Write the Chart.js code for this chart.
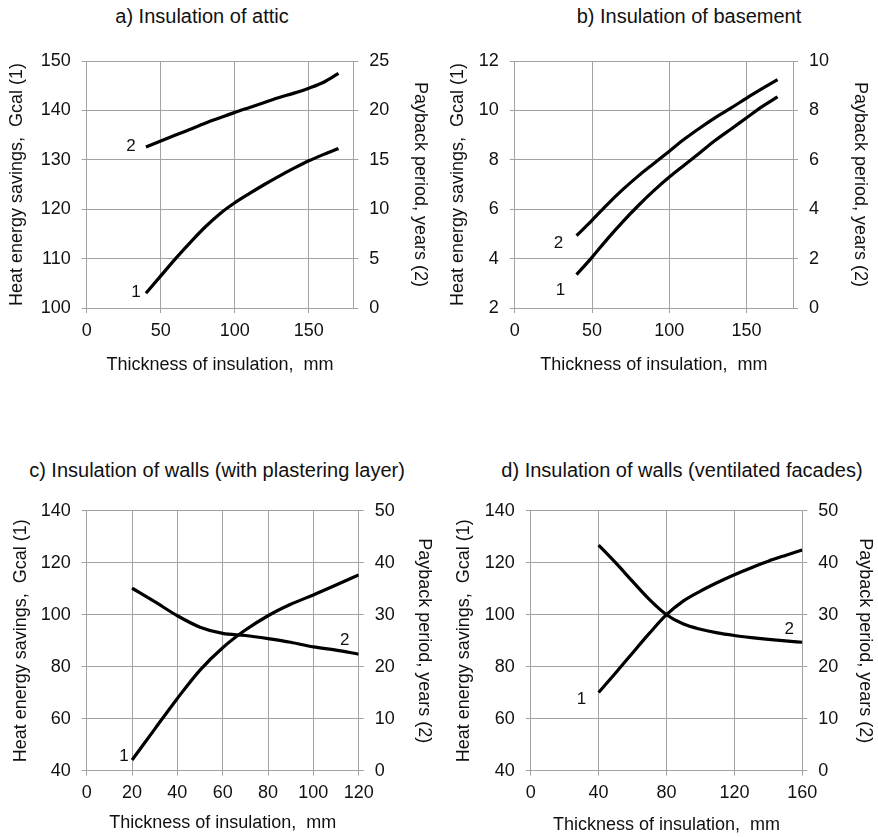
<!DOCTYPE html>
<html>
<head>
<meta charset="utf-8">
<title>Heat energy savings and payback period vs insulation thickness</title>
<script src="https://cdn.jsdelivr.net/npm/chart.js@4.4.1/dist/chart.umd.min.js"></script>
<style>
  html, body { margin: 0; padding: 0; background: #fff; }
  #page { position: relative; width: 878px; height: 837px; overflow: hidden; background: #fff; }
  #page canvas { position: absolute; }
  .ptitle {
    position: absolute;
    font: 20px "Liberation Sans", Arial, sans-serif;
    line-height: 24px;
    color: #111;
    text-align: center;
    white-space: nowrap;
  }
</style>
</head>
<body>
<div id="page">
  <div class="ptitle" style="left:0px;width:404px;top:4px">a) Insulation of attic</div>
  <div class="ptitle" style="left:489px;width:400px;top:4px">b) Insulation of basement</div>
  <div class="ptitle" style="left:0px;width:434px;top:458px">c) Insulation of walls (with plastering layer)</div>
  <div class="ptitle" style="left:482px;width:400px;top:458px">d) Insulation of walls (ventilated facades)</div>

  <canvas id="chartA" width="439" height="400" style="left:0px;top:0px"></canvas>
  <canvas id="chartB" width="439" height="400" style="left:439px;top:0px"></canvas>
  <canvas id="chartC" width="439" height="437" style="left:0px;top:400px"></canvas>
  <canvas id="chartD" width="439" height="437" style="left:439px;top:400px"></canvas>
</div>

<script>
// DATA (x = thickness, mm; savings = Gcal, left axis; payback = years, right axis)

// a) attic
const thickA   = [40, 50, 60, 70, 80, 90, 100, 110, 120, 130, 140, 150, 160, 170];
const savingsA = [103.0, 106.5, 110.0, 113.3, 116.4, 119.1, 121.3, 123.2, 125.0, 126.7, 128.3, 129.8, 131.1, 132.3];
const paybackA = [16.3, 16.9, 17.5, 18.1, 18.7, 19.25, 19.8, 20.3, 20.8, 21.3, 21.75, 22.25, 22.85, 23.75];

// b) basement
const thickB   = [40, 50, 60, 70, 80, 90, 100, 110, 120, 130, 140, 150, 160, 170];
const savingsB = [3.35, 4.05, 4.8, 5.5, 6.15, 6.75, 7.3, 7.8, 8.3, 8.8, 9.25, 9.7, 10.15, 10.55];
const paybackB = [2.93, 3.55, 4.2, 4.8, 5.35, 5.85, 6.35, 6.85, 7.3, 7.72, 8.1, 8.5, 8.88, 9.25];

// c) walls, plastering layer
const thickC   = [20, 30, 40, 50, 60, 70, 80, 90, 100, 110, 120];
const savingsC = [44.1, 56.0, 67.8, 78.7, 87.3, 94.1, 99.6, 104.0, 107.6, 111.4, 115.3];
const paybackC = [35.1, 32.5, 29.8, 27.6, 26.4, 26.0, 25.4, 24.7, 23.8, 23.2, 22.4];

// d) walls, ventilated facades
const thickD   = [40, 50, 60, 70, 80, 90, 100, 110, 120, 130, 140, 150, 160];
const savingsD = [70.1, 77.6, 85.3, 92.9, 100.0, 105.3, 109.1, 112.4, 115.4, 118.1, 120.6, 122.8, 124.9];
const paybackD = [43.4, 40.0, 36.4, 32.9, 30.0, 28.2, 27.2, 26.5, 26.0, 25.6, 25.25, 24.95, 24.7];

// axis ranges [min, max, step]
const xAxisA = [0, 180, 50],  yAxisA = [100, 150, 10], y2AxisA = [0, 25, 5];
const xAxisB = [0, 180, 50],  yAxisB = [2, 12, 2],     y2AxisB = [0, 10, 2];
const xAxisC = [0, 120, 20],  yAxisC = [40, 140, 20],  y2AxisC = [0, 50, 10];
const xAxisD = [0, 160, 40],  yAxisD = [40, 140, 20],  y2AxisD = [0, 50, 10];

// STYLE
Chart.defaults.font.family = '"Liberation Sans", Arial, sans-serif';
Chart.defaults.font.size = 18;
Chart.defaults.color = '#111';
const GRID = '#a3a3a3';

// curve numbers "1" / "2", placed next to an end of their curve
const curveTags = {
  id: 'curveTags',
  afterDatasetsDraw(chart, args, opts) {
    const ctx = chart.ctx;
    ctx.save();
    ctx.font = '17px "Liberation Sans", Arial, sans-serif';
    ctx.fillStyle = '#111';
    ctx.textAlign = 'center';
    ctx.textBaseline = 'middle';
    (opts.tags || []).forEach(t => {
      const pts = chart.getDatasetMeta(t.series).data;
      const p = t.end ? pts[pts.length - 1] : pts[0];
      ctx.fillText(t.text, p.x + t.dx, p.y + t.dy);
    });
    ctx.restore();
  }
};

function makePanel(id, p) {
  const toPts = ys => p.x.map((x, i) => ({ x: x, y: ys[i] }));
  const line = {
    borderColor: '#000',
    borderWidth: 3.2,
    pointRadius: 0,
    cubicInterpolationMode: 'monotone',
    fill: false
  };
  const b = p.box;

  return new Chart(document.getElementById(id), {
    type: 'line',
    data: {
      datasets: [
        Object.assign({ label: 'Heat energy savings, Gcal (1)', data: toPts(p.savings), yAxisID: 'y' }, line),
        Object.assign({ label: 'Payback period, years (2)', data: toPts(p.payback), yAxisID: 'y2' }, line)
      ]
    },
    options: {
      responsive: false,
      animation: false,
      events: [],
      layout: { padding: { top: b.top, left: 0, right: 0, bottom: 0 } },
      plugins: {
        legend: { display: false },
        tooltip: { enabled: false },
        curveTags: { tags: p.tags }
      },
      scales: {
        x: {
          type: 'linear',
          min: p.xr[0], max: p.xr[1],
          grid: { color: GRID, tickLength: 5 },
          border: { color: GRID },
          ticks: { stepSize: p.xr[2], includeBounds: false, padding: 7, maxRotation: 0 },
          title: { display: true, text: 'Thickness of insulation,  mm', padding: { top: 0, bottom: b.xTitle } },
          afterFit: s => { s.height = b.h - b.bottom; }
        },
        y: {
          position: 'left',
          min: p.yr[0], max: p.yr[1],
          grid: { color: GRID, tickLength: 5 },
          border: { color: GRID },
          ticks: { stepSize: p.yr[2], padding: 11 },
          title: { display: true, text: 'Heat energy savings,  Gcal (1)', padding: { top: b.yTitle, bottom: 0 } },
          afterFit: s => { s.width = b.left; }
        },
        y2: {
          position: 'right',
          min: p.y2r[0], max: p.y2r[1],
          grid: { color: GRID, tickLength: 5, drawOnChartArea: false },
          border: { color: GRID },
          ticks: { stepSize: p.y2r[2], padding: 11 },
          title: { display: true, text: 'Payback period, years (2)', padding: { top: b.y2Title, bottom: 0 } },
          afterFit: s => { s.width = b.w - b.right; }
        }
      }
    },
    plugins: [curveTags]
  });
}

// INIT
makePanel('chartA', {
  x: thickA, savings: savingsA, payback: paybackA,
  xr: xAxisA, yr: yAxisA, y2r: y2AxisA,
  box: { w: 439, h: 400, left: 86.7, right: 353.3, top: 61, bottom: 308, yTitle: 5.9, y2Title: 8.2, xTitle: 24.2 },
  tags: [
    { text: '1', series: 0, end: false, dx: -10, dy: -1 },
    { text: '2', series: 1, end: false, dx: -15, dy: -1 }
  ]
});

makePanel('chartB', {
  x: thickB, savings: savingsB, payback: paybackB,
  xr: xAxisB, yr: yAxisB, y2r: y2AxisB,
  box: { w: 439, h: 400, left: 75.7, right: 354, top: 61, bottom: 308, yTitle: 8.2, y2Title: 7.7, xTitle: 24.2 },
  tags: [
    { text: '1', series: 0, end: false, dx: -16, dy: 16 },
    { text: '2', series: 1, end: false, dx: -18, dy: 8 }
  ]
});

makePanel('chartC', {
  x: thickC, savings: savingsC, payback: paybackC,
  xr: xAxisC, yr: yAxisC, y2r: y2AxisC,
  box: { w: 439, h: 437, left: 86.7, right: 358.7, top: 110.7, bottom: 370.7, yTitle: 10.2, y2Title: 4.2, xTitle: 2.9 },
  tags: [
    { text: '1', series: 0, end: false, dx: -8, dy: -4 },
    { text: '2', series: 1, end: true, dx: -14, dy: -14 }
  ]
});

makePanel('chartD', {
  x: thickD, savings: savingsD, payback: paybackD,
  xr: xAxisD, yr: yAxisD, y2r: y2AxisD,
  box: { w: 439, h: 437, left: 91.7, right: 363.3, top: 110.7, bottom: 370.7, yTitle: 14, y2Title: 1.9, xTitle: 1.4 },
  tags: [
    { text: '1', series: 0, end: false, dx: -17, dy: 7 },
    { text: '2', series: 1, end: true, dx: -13, dy: -13 }
  ]
});
</script>
</body>
</html>
